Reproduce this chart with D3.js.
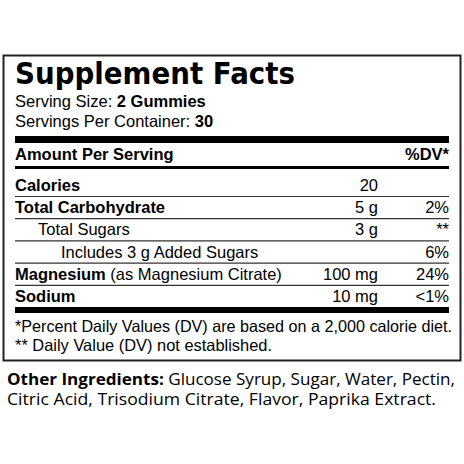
<!DOCTYPE html>
<html><head><meta charset="utf-8">
<script src="https://cdn.jsdelivr.net/npm/d3@7"></script>
<style>body{margin:0;background:#fff}</style>
</head><body><div id="main"></div>
<script>
// rows of the label
var nutrients = ["Calories", "Total Carbohydrate", "Total Sugars", "Includes 3 g Added Sugars", "Magnesium", "Sodium"];
var notes = ["", "", "", "", " (as Magnesium Citrate)", ""];
var amounts = ["20", "5 g", "3 g", "", "100 mg", "10 mg"];
var dailyValues = ["", "2%", "**", "6%", "24%", "<1%"];
var indents = [0, 0, 1, 2, 0, 0];
var bolds = [true, true, false, false, true, true];
var footnotes = ["*Percent Daily Values (DV) are based on a 2,000 calorie diet.", "** Daily Value (DV) not established."];
var ingredients = ["Glucose Syrup, Sugar, Water, Pectin,", "Citric Acid, Trisodium Citrate, Flavor, Paprika Extract."];

var font = "'Liberation Sans', Arial, sans-serif";
var heavy = "'DejaVu Sans', sans-serif";
var fs = 16.5;
const svg = d3.select('#main').append('svg').attr('width', 464).attr('height', 464);

var L = 15, R = 449;
svg.append('rect').attr('x', 3.5).attr('y', 55.5).attr('width', 457).attr('height', 305)
    .attr('fill', 'none').attr('stroke', '#222').attr('stroke-width', 2);

svg.append('text').attr('x', L).attr('y', 84).attr('font-family', heavy).attr('font-weight', 'bold')
    .attr('font-size', 30).attr('textLength', 280).attr('lengthAdjust', 'spacingAndGlyphs').text('Supplement Facts');
var t1 = svg.append('text').attr('x', L).attr('y', 107).attr('font-family', font).attr('font-size', fs);
t1.append('tspan').text('Serving Size: ');
t1.append('tspan').attr('font-weight', 'bold').text('2 Gummies');
var t2 = svg.append('text').attr('x', L).attr('y', 127).attr('font-family', font).attr('font-size', fs);
t2.append('tspan').text('Servings Per Container: ');
t2.append('tspan').attr('font-weight', 'bold').text('30');

svg.append('rect').attr('x', L).attr('y', 136).attr('width', R - L).attr('height', 7).attr('fill', '#000');
svg.append('text').attr('x', L).attr('y', 160).attr('font-family', font).attr('font-weight', 'bold').attr('font-size', fs).text('Amount Per Serving');
svg.append('text').attr('x', R).attr('y', 160).attr('text-anchor', 'end').attr('font-family', font).attr('font-weight', 'bold').attr('font-size', fs).text('%DV*');
svg.append('rect').attr('x', L).attr('y', 166).attr('width', R - L).attr('height', 3).attr('fill', '#000');

var y = d3.scalePoint().domain(nutrients).range([191, 302]);
var rows = svg.selectAll('g.row').data(nutrients).join('g').attr('class', 'row')
    .attr('transform', d => `translate(0,${y(d)})`);
rows.each(function (d, i) {
    var g = d3.select(this);
    var t = g.append('text').attr('x', L + indents[i] * 23).attr('font-family', font).attr('font-size', fs);
    t.append('tspan').attr('font-weight', bolds[i] ? 'bold' : 'normal').text(d);
    if (notes[i]) t.append('tspan').text(notes[i]);
    g.append('text').attr('x', 378).attr('text-anchor', 'end').attr('font-family', font).attr('font-size', fs).text(amounts[i]);
    g.append('text').attr('x', R).attr('text-anchor', 'end').attr('font-family', font).attr('font-size', fs).text(dailyValues[i]);
    if (i < nutrients.length - 1)
        g.append('line').attr('x1', L).attr('x2', R).attr('y1', 5.5).attr('y2', 5.5).attr('stroke', '#333').attr('stroke-width', 1.2);
});

svg.append('rect').attr('x', L).attr('y', 307).attr('width', R - L).attr('height', 6).attr('fill', '#000');
svg.selectAll('text.fn').data(footnotes).join('text').attr('class', 'fn')
    .attr('x', L).attr('y', (d, i) => 332 + i * 19).attr('font-family', font).attr('font-size', fs)
    .attr('textLength', (d, i) => i === 0 ? 437 : 257).attr('lengthAdjust', 'spacingAndGlyphs').text(d => d);

svg.selectAll('text.ing').data(ingredients).join('text').attr('class', 'ing')
    .attr('x', 7).attr('y', (d, i) => 385 + i * 20).attr('font-family', "'Open Sans', sans-serif").attr('font-size', 16.5)
    .attr('textLength', (d, i) => i === 0 ? 448 : 429).attr('lengthAdjust', 'spacingAndGlyphs')
    .each(function (d, i) {
        var t = d3.select(this);
        if (i === 0) t.append('tspan').attr('font-weight', 'bold').text('Other Ingredients: ');
        t.append('tspan').text(d);
    });
</script></body></html>
